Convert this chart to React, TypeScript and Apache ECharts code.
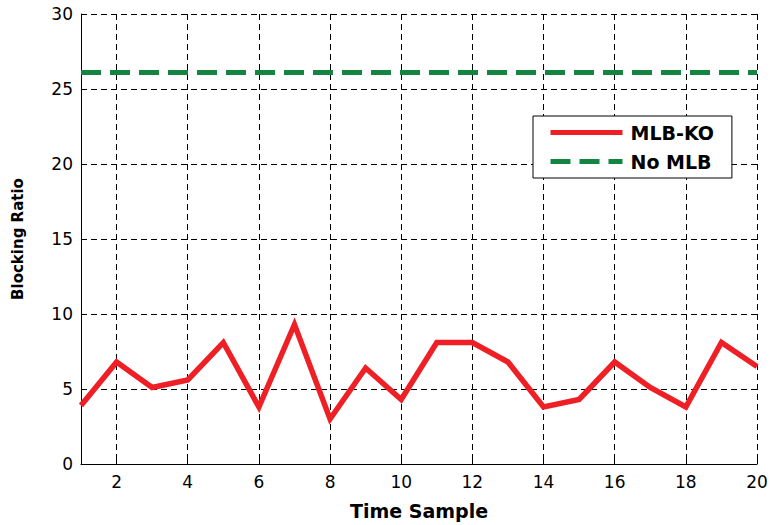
import React, { useEffect, useRef } from "react";
import * as echarts from "echarts";

const timeSamples = ["1","2","3","4","5","6","7","8","9","10","11","12","13","14","15","16","17","18","19","20"];
const mlbKo = [3.9, 6.8, 5.1, 5.6, 8.1, 3.8, 9.3, 3.0, 6.4, 4.3, 8.1, 8.1, 6.8, 3.8, 4.3, 6.8, 5.1, 3.8, 8.1, 6.5];
const noMlb = [26.1, 26.1, 26.1, 26.1, 26.1, 26.1, 26.1, 26.1, 26.1, 26.1, 26.1, 26.1, 26.1, 26.1, 26.1, 26.1, 26.1, 26.1, 26.1, 26.1];
const seriesNames = ["MLB-KO", "No MLB"];

const FONT = "DejaVu Sans, Liberation Sans, Arial, sans-serif";
const evenOnly = (i: number, v: string) => Number(v) % 2 === 0;

export default function App() {
  const ref = useRef<HTMLDivElement>(null);
  useEffect(() => {
    if (!ref.current) return;
    const chart = echarts.init(ref.current, null, { renderer: "svg" });
    chart.setOption({
      animation: false,
      backgroundColor: "#ffffff",
      grid: { left: 81, right: 15, top: 14, bottom: 54, containLabel: false },
      legend: {
        orient: "vertical",
        left: 533,
        top: 116,
        padding: [7, 18, 7, 15],
        itemWidth: 72,
        itemHeight: 16,
        itemGap: 10,
        backgroundColor: "#ffffff",
        borderColor: "#000000",
        borderWidth: 1,
        borderRadius: 0,
        data: seriesNames,
        itemStyle: { opacity: 0 },
        lineStyle: { width: 5 },
        textStyle: {
          fontFamily: FONT,
          fontWeight: "bold",
          fontSize: 19,
          color: "#000000",
          padding: [0, 0, 0, 3],
        },
      },
      xAxis: {
        type: "category",
        data: timeSamples,
        boundaryGap: false,
        name: "Time Sample",
        nameLocation: "middle",
        nameGap: 37,
        nameTextStyle: { fontFamily: FONT, fontWeight: "bold", fontSize: 19, color: "#000" },
        axisLine: { show: true, lineStyle: { color: "#000", width: 1 } },
        axisTick: { show: true, inside: true, length: 5, interval: evenOnly, lineStyle: { color: "#000" } },
        axisLabel: { interval: evenOnly, margin: 9, fontFamily: FONT, fontSize: 17, color: "#000" },
        splitLine: { show: true, interval: evenOnly, lineStyle: { color: "#000", type: [6, 4], width: 1 } },
      },
      yAxis: {
        type: "value",
        min: 0,
        max: 30,
        interval: 5,
        name: "Blocking Ratio",
        nameLocation: "middle",
        nameRotate: 90,
        nameGap: 56,
        nameTextStyle: { fontFamily: FONT, fontWeight: "bold", fontSize: 15, color: "#000" },
        axisLine: { show: true, lineStyle: { color: "#000", width: 1 } },
        axisTick: { show: true, inside: true, length: 5, lineStyle: { color: "#000" } },
        axisLabel: { margin: 8, fontFamily: FONT, fontSize: 17, color: "#000" },
        splitLine: { show: true, lineStyle: { color: "#000", type: [6, 4], width: 1 } },
      },
      series: [
        {
          name: seriesNames[0],
          type: "line",
          data: mlbKo,
          symbol: "none",
          lineStyle: { color: "#ee2025", width: 5.5, join: "miter" },
          itemStyle: { color: "#ee2025" },
          z: 3,
        },
        {
          name: seriesNames[1],
          type: "line",
          data: noMlb,
          symbol: "none",
          lineStyle: { color: "#138540", width: 5, type: [20, 9] },
          itemStyle: { color: "#138540" },
          z: 2,
        },
      ],
    });
    return () => chart.dispose();
  }, []);
  return <div ref={ref} style={{ position: "fixed", left: 0, top: 0, width: 772, height: 525 }} />;
}
